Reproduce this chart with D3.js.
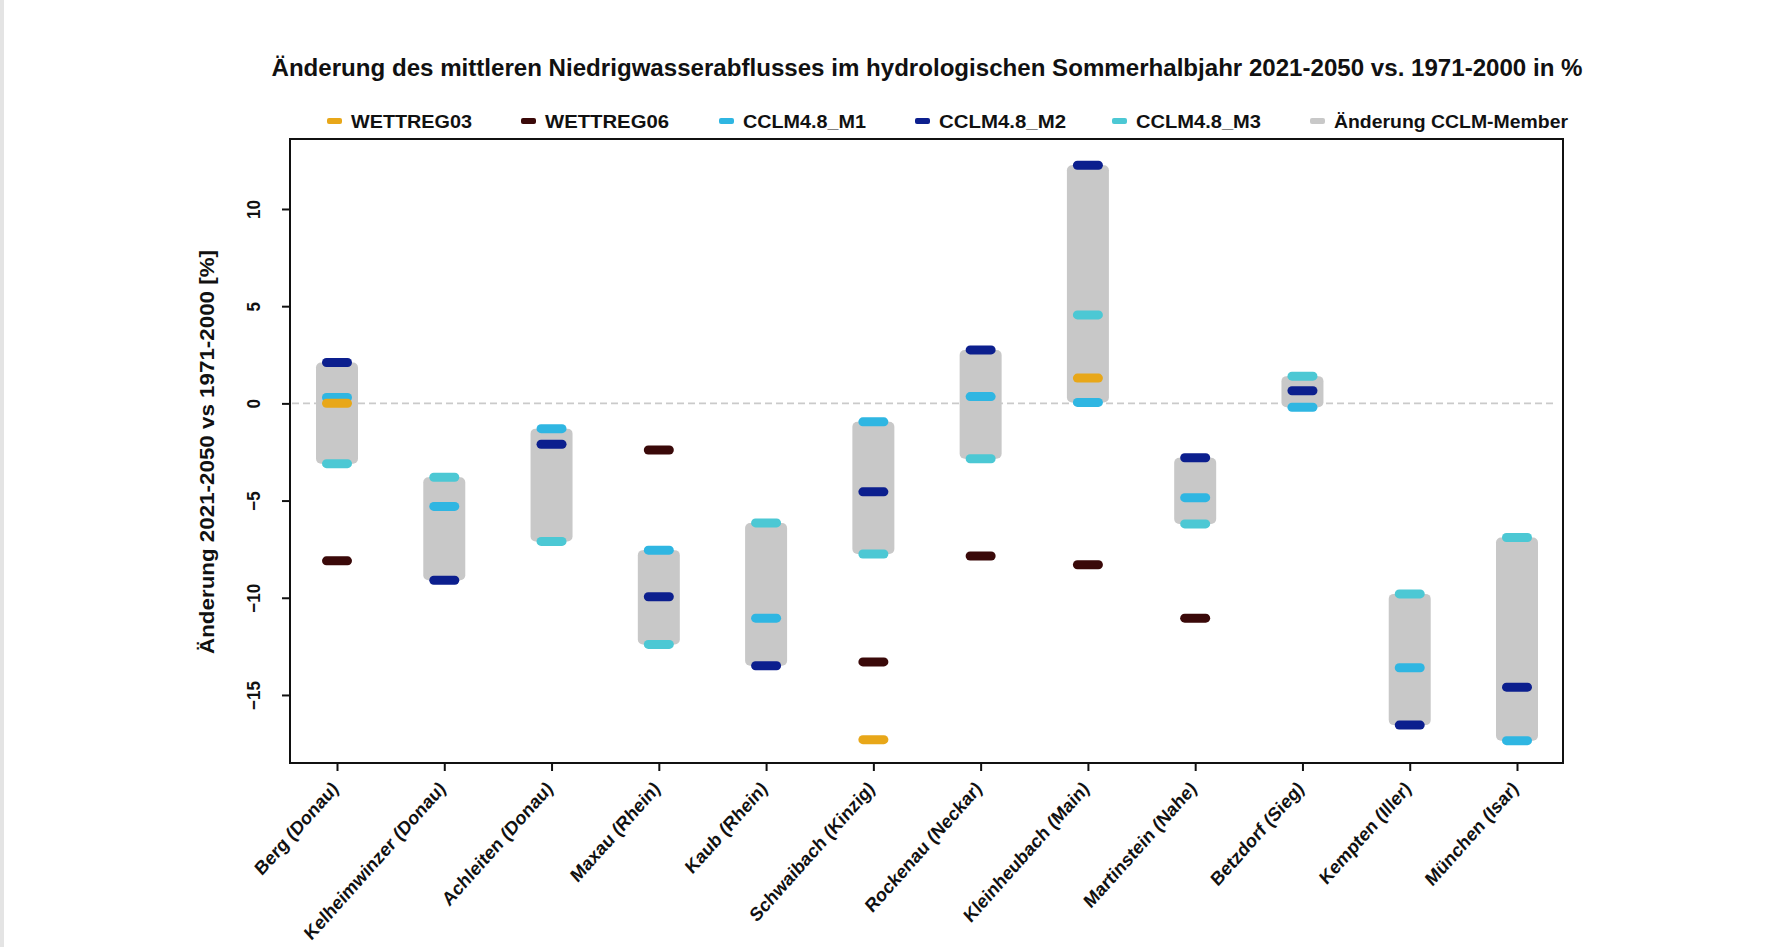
<!DOCTYPE html>
<html>
<head>
<meta charset="utf-8">
<script src="https://cdn.jsdelivr.net/npm/d3@7"></script>
<style>
  html, body { margin: 0; padding: 0; background: #ffffff; }
  svg { display: block; }
  text { font-family: "Liberation Sans", Arial, Helvetica, sans-serif; fill: #111; }
</style>
</head>
<body>
<svg id="chart" width="1785" height="947"></svg>
<script>
// Pegel (gauges)
const stations = [
  "Berg (Donau)", "Kelheimwinzer (Donau)", "Achleiten (Donau)", "Maxau (Rhein)",
  "Kaub (Rhein)", "Schwaibach (Kinzig)", "Rockenau (Neckar)", "Kleinheubach (Main)",
  "Martinstein (Nahe)", "Betzdorf (Sieg)", "Kempten (Iller)", "München (Isar)"
];

// Änderung in % per scenario (null = kein Wert)
const wettreg03 = [0.0, null, null, null, null, -17.3, null, 1.3, null, null, null, null];
const wettreg06 = [-8.1, null, null, -2.4, null, -13.3, -7.85, -8.3, -11.05, null, null, null];
const cclmM1 = [0.3, -5.3, -1.3, -7.55, -11.05, -0.95, 0.35, 0.05, -4.85, -0.2, -13.6, -17.35];
const cclmM2 = [2.1, -9.1, -2.1, -9.95, -13.5, -4.55, 2.75, 12.25, -2.8, 0.65, -16.55, -14.6];
const cclmM3 = [-3.1, -3.8, -7.1, -12.4, -6.15, -7.75, -2.85, 4.55, -6.2, 1.4, -9.8, -6.9];

const yTicks = [-15, -10, -5, 0, 5, 10];

const legendLabels = ["WETTREG03", "WETTREG06", "CCLM4.8_M1", "CCLM4.8_M2", "CCLM4.8_M3", "Änderung CCLM-Member"];

const colors = {
  w03: "#e8a719",
  w06: "#3a0909",
  m1: "#2fb6e2",
  m2: "#0c1f8e",
  m3: "#4cc8d4",
  range: "#c8c8c8"
};

const svg = d3.select("#chart");

// page frame edge
svg.append("rect").attr("x", 0).attr("y", 0).attr("width", 4).attr("height", 947).attr("fill", "#e4e4e4");

// plot region
const plot = { left: 290, right: 1563, top: 139, bottom: 763 };

const x = d3.scalePoint()
  .domain(stations)
  .range([337, 1517]);

const y = d3.scaleLinear()
  .domain([-18.5, 13.6])
  .range([plot.bottom, plot.top]);

// zero reference line
svg.append("line")
  .attr("x1", plot.left + 2).attr("x2", plot.right - 10)
  .attr("y1", y(0)).attr("y2", y(0))
  .attr("stroke", "#cacaca")
  .attr("stroke-width", 1.6)
  .attr("stroke-dasharray", "7,4");

// CCLM member range bars
const ranges = stations.map((s, i) => {
  const vals = [cclmM1[i], cclmM2[i], cclmM3[i]];
  return { s, lo: d3.min(vals), hi: d3.max(vals) };
});

const barW = 42;
svg.append("g").selectAll("rect")
  .data(ranges)
  .join("rect")
  .attr("x", d => x(d.s) - barW / 2)
  .attr("y", d => y(d.hi))
  .attr("width", barW)
  .attr("height", d => y(d.lo) - y(d.hi))
  .attr("rx", 5)
  .attr("fill", colors.range);

// scenario markers
const markW = 30, markH = 9;
const series = [
  { key: "m3", vals: cclmM3 },
  { key: "m1", vals: cclmM1 },
  { key: "m2", vals: cclmM2 },
  { key: "w06", vals: wettreg06 },
  { key: "w03", vals: wettreg03 }
];

series.forEach(ser => {
  const pts = stations.map((s, i) => ({ s, v: ser.vals[i] })).filter(d => d.v !== null);
  svg.append("g").selectAll("rect")
    .data(pts)
    .join("rect")
    .attr("x", d => x(d.s) - markW / 2)
    .attr("y", d => y(d.v) - markH / 2)
    .attr("width", markW)
    .attr("height", markH)
    .attr("rx", 4.5)
    .attr("fill", colors[ser.key]);
});

// frame
svg.append("rect")
  .attr("x", plot.left).attr("y", plot.top)
  .attr("width", plot.right - plot.left)
  .attr("height", plot.bottom - plot.top)
  .attr("fill", "none")
  .attr("stroke", "#111")
  .attr("stroke-width", 2);

// y axis
const yAxis = svg.append("g")
  .attr("transform", `translate(${plot.left},0)`)
  .call(d3.axisLeft(y).tickValues(yTicks).tickSize(8).tickPadding(0).tickFormat(d3.format("d")));
yAxis.select(".domain").remove();
yAxis.selectAll(".tick line").attr("stroke", "#111").attr("stroke-width", 2);
yAxis.selectAll(".tick text")
  .attr("x", 0).attr("y", 0).attr("dy", 0)
  .attr("transform", "translate(-30,0) scale(1.08,1) rotate(-90)")
  .attr("text-anchor", "middle")
  .style("font-size", "17px")
  .style("font-weight", "bold");

// x axis
const xAxis = svg.append("g")
  .attr("transform", `translate(0,${plot.bottom})`)
  .call(d3.axisBottom(x).tickSize(8).tickFormat(""));
xAxis.select(".domain").remove();
xAxis.selectAll(".tick line").attr("stroke", "#111").attr("stroke-width", 2);

svg.append("g").selectAll("text")
  .data(stations)
  .join("text")
  .attr("transform", d => `translate(${x(d) - 2},${plot.bottom + 22}) scale(1,1.12) rotate(-45)`)
  .attr("text-anchor", "end")
  .attr("dy", "0.35em")
  .style("font-size", "17.3px")
  .style("font-weight", "bold")
  .text(d => d);

// y axis title
svg.append("text")
  .attr("transform", `translate(214,452) rotate(-90)`)
  .attr("text-anchor", "middle")
  .attr("textLength", 404)
  .attr("lengthAdjust", "spacingAndGlyphs")
  .style("font-size", "21px")
  .style("font-weight", "bold")
  .text("Änderung 2021-2050 vs 1971-2000 [%]");

// title
svg.append("text")
  .attr("x", 927).attr("y", 76)
  .attr("text-anchor", "middle")
  .attr("textLength", 1311)
  .attr("lengthAdjust", "spacingAndGlyphs")
  .style("font-size", "23px")
  .style("font-weight", "bold")
  .text("Änderung des mittleren Niedrigwasserabflusses im hydrologischen Sommerhalbjahr 2021-2050 vs. 1971-2000 in %");

// legend
const legendX = [327, 521, 719, 915, 1112, 1310];
const legendW = [121, 124, 123, 127, 125, 234];
const legendColors = [colors.w03, colors.w06, colors.m1, colors.m2, colors.m3, colors.range];
const lg = svg.append("g").selectAll("g")
  .data(legendLabels)
  .join("g")
  .attr("transform", (d, i) => `translate(${legendX[i]},121)`);
lg.append("rect")
  .attr("x", 0).attr("y", -3)
  .attr("width", 15).attr("height", 6)
  .attr("rx", 2)
  .attr("fill", (d, i) => legendColors[i]);
lg.append("text")
  .attr("x", 24).attr("y", 0)
  .attr("dy", "0.36em")
  .attr("textLength", (d, i) => legendW[i])
  .attr("lengthAdjust", "spacingAndGlyphs")
  .style("font-size", "18.5px")
  .style("font-weight", "bold")
  .text(d => d);
</script>
</body>
</html>
